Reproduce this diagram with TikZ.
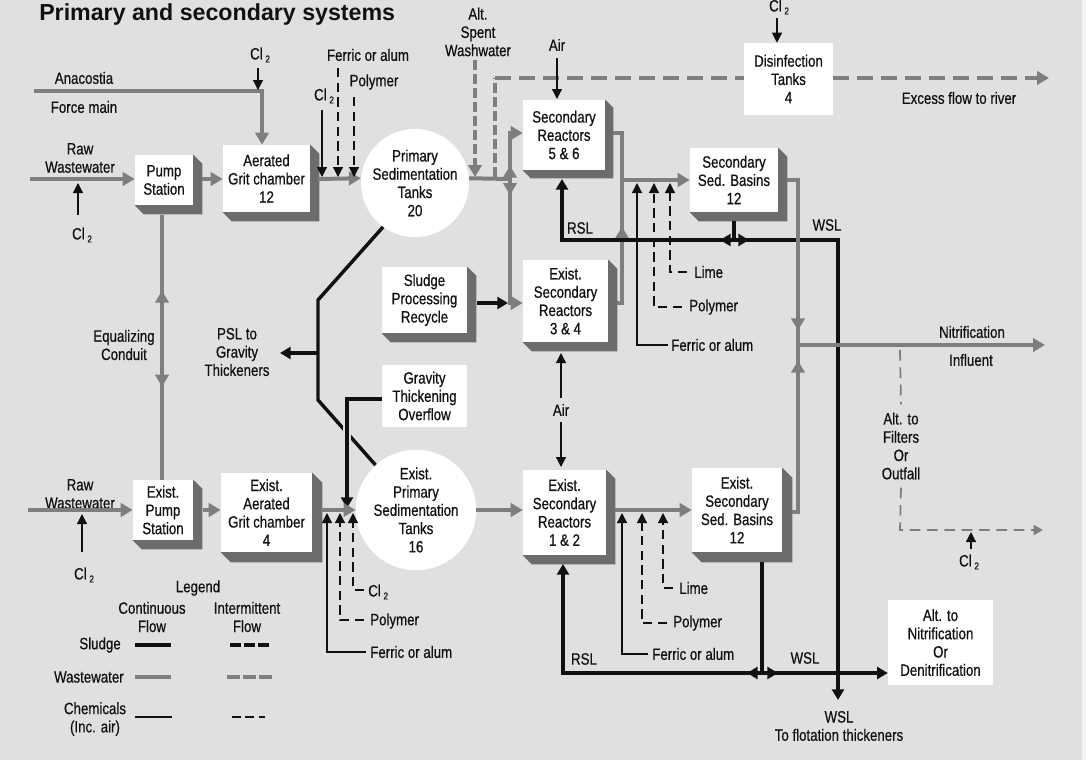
\documentclass[tikz,border=0pt]{standalone}
\usepackage{fontspec}
\setmainfont{Liberation Sans}[FakeStretch=0.81,FakeBold=0.6]
\newfontfamily\titlefont{Liberation Sans}
\usetikzlibrary{arrows.meta,calc,decorations.markings}
\pgfdeclarelayer{bgl}\pgfdeclarelayer{shade}\pgfsetlayers{bgl,shade,main}
\definecolor{bgc}{HTML}{E0E0E0}
\definecolor{wwc}{HTML}{7E7E7E}
\definecolor{shc}{HTML}{6C6C6C}
\definecolor{ink}{HTML}{111111}
\newcommand\cltwo{Cl\,\raisebox{-0.35ex}{\fontsize{7.5}{7.5}\selectfont 2}}
\newcommand\dropshade[2][9]{\begin{pgfonlayer}{shade}\fill[shc] (#2.north east) -- ++(#1,#1) -- ($(#2.south east)+(#1,#1)$) -- ($(#2.south west)+(#1,#1)$) -- (#2.south west) -- cycle;\end{pgfonlayer}}
\tikzset{
 gtip/.tip={Triangle[length=9pt,width=10pt]},
 gstip/.tip={Triangle[length=7pt,width=7.5pt]},
 stip/.tip={Triangle[length=8pt,width=9pt]},
 ctip/.tip={Triangle[length=7.5pt,width=7.5pt]},
 ww/.style={draw=wwc, line width=3pt},
 wwd/.style={ww, dash pattern=on 12pt off 6pt},
 wwdv/.style={ww, dash pattern=on 7.5pt off 3pt},
 sl/.style={draw=ink, line width=2.6pt},
 ch/.style={draw=ink, line width=0.9pt},
 chd/.style={ch, dash pattern=on 7pt off 4pt},
 midtip/.style 2 args={postaction={decorate}, decoration={markings, mark=at position #1 with {\arrow{#2}}}},
 bx/.style 2 args={fill=white, inner sep=0pt, align=center, text=ink, minimum width=#1*0.75pt, minimum height=#2*0.75pt},
 tank/.style={circle, fill=white, inner sep=0pt, align=center, text=ink, minimum size=96*0.75pt},
 lab/.style={inner sep=0pt, align=center, text=ink},
}
\begin{document}
\begin{tikzpicture}[x=0.75pt,y=-0.75pt,font=\fontsize{12.3}{13.7}\selectfont]
\useasboundingbox (0,0) rectangle (1086,760);
\begin{pgfonlayer}{bgl}
\fill[bgc] (0,0) rectangle (1086,760);
\fill[white!60!bgc] (1082,0) rectangle (1086,760);
\end{pgfonlayer}

% ---------- title
\node[lab, anchor=base west, font=\titlefont\bfseries\fontsize{17.4}{20}\selectfont] (title) at (39,21) {Primary and secondary systems};

% ---------- boxes
\node[bx={58}{50}] (pump) at (164,180) {Pump\\Station};
\node[bx={87}{67}] (grit) at (266.5,178.5) {Aerated\\Grit chamber\\12};
\node[tank] (psed) at (415,183) {Primary\\Sedimentation\\Tanks\\20};
\node[bx={82}{70}] (r56) at (564,135) {Secondary\\Reactors\\5 \& 6};
\node[bx={88}{64}] (ssb) at (734,180) {Secondary\\Sed. Basins\\12};
\node[bx={89}{72}] (dis) at (788.5,79) {Disinfection\\Tanks\\4};
\node[bx={85}{66}] (spr) at (424.5,300) {Sludge\\Processing\\Recycle};
\node[bx={85}{82}] (r34) at (565.5,301) {Exist.\\Secondary\\Reactors\\3 \& 4};
\node[bx={85}{62}] (gto) at (424.5,396) {Gravity\\Thickening\\Overflow};
\node[bx={60}{60}] (epump) at (163,510) {Exist.\\Pump\\Station};
\node[bx={91}{79}] (egrit) at (266.5,512.5) {Exist.\\Aerated\\Grit chamber\\4};
\node[tank] (epsed) at (416,510) {Exist.\\Primary\\Sedimentation\\Tanks\\16};
\node[bx={83}{85}] (r12) at (564.5,512.5) {Exist.\\Secondary\\Reactors\\1 \& 2};
\node[bx={90}{84}] (essb) at (737,510) {Exist.\\Secondary\\Sed. Basins\\12};
\node[bx={105}{85}] (altn) at (940.5,642.5) {Alt. to\\Nitrification\\Or\\Denitrification};

\dropshade{pump}\dropshade{grit}\dropshade[8]{r56}\dropshade{ssb}
\dropshade{spr}\dropshade{r34}\dropshade{epump}\dropshade[10]{egrit}
\dropshade{r12}\dropshade[10]{essb}

% ---------- labels
\node[lab] (anac) at (84,78) {Anacostia};
\node[lab] (fmain) at (84,107) {Force main};
\node[lab] (rw1) at (80,158) {Raw\\Wastewater};
\node[lab] (cl1) at (82,235) {\cltwo};
\node[lab] (cl2) at (260,55) {\cltwo};
\node[lab] (cl3) at (324,96) {\cltwo};
\node[lab] (fer1) at (368,55) {Ferric or alum};
\node[lab] (pol1) at (374,82) {Polymer};
\node[lab] (asw) at (478,32) {Alt.\\Spent\\Washwater};
\node[lab] (air1) at (557,45) {Air};
\node[lab] (cl4) at (779,7) {\cltwo};
\node[lab] (efr) at (959,98) {Excess flow to river};
\node[lab] (rsl1) at (580,228) {RSL};
\node[lab] (wsl1) at (827,225) {WSL};
\node[lab, anchor=west] (lime1) at (694,272) {Lime};
\node[lab, anchor=west] (pol2) at (689,307) {Polymer};
\node[lab, anchor=west] (fer2) at (671,345) {Ferric or alum};
\node[lab] (eqc) at (124,345) {Equalizing\\Conduit};
\node[lab] (psl) at (237,352) {PSL to\\Gravity\\Thickeners};
\node[lab] (air2) at (561,410) {Air};
\node[lab] (nit) at (972,332) {Nitrification};
\node[lab] (inf) at (971,360) {Influent};
\node[lab] (altf) at (901,446) {Alt. to\\Filters\\Or\\Outfall};
\node[lab] (cl5) at (969,562) {\cltwo};
\node[lab] (rw2) at (80,494) {Raw\\Wastewater};
\node[lab] (cl6) at (84,575) {\cltwo};
\node[lab, anchor=west] (cl7) at (368,592) {\cltwo};
\node[lab, anchor=west] (pol3) at (370,621) {Polymer};
\node[lab, anchor=west] (fer3) at (370,652) {Ferric or alum};
\node[lab, anchor=west] (lime2) at (679,588) {Lime};
\node[lab, anchor=west] (pol4) at (673,623) {Polymer};
\node[lab, anchor=west] (fer4) at (652,654) {Ferric or alum};
\node[lab] (rsl2) at (584,659) {RSL};
\node[lab] (wsl2) at (805,658) {WSL};
\node[lab] (wsl3) at (839,726) {WSL\\To flotation thickeners};
% legend
\node[lab] (leg) at (198,588) {Legend};
\node[lab] (cont) at (152,617) {Continuous\\Flow};
\node[lab] (inter) at (247,617) {Intermittent\\Flow};
\node[lab, anchor=east] (lsl) at (121,645) {Sludge};
\node[lab, anchor=east] (lww) at (124,677) {Wastewater};
\node[lab] (lch) at (95,719) {Chemicals\\(Inc. air)};

% ---------- top row connectors
\draw[ww,-gtip] (34,91) -- (262,91) -- (262,0 |- grit.north);
\draw[ch,-ctip] (258,68) -- (258,90);
\draw[ww,-gtip] (30,179) -- (pump.west |- 0,179);
\draw[ch,-ctip] (78,215) -- (78,183);
\draw[ww,-gtip] (202,179) -- (grit.west |- 0,179);
\draw[ww,-gtip] (318,179) -- (psed.175);
\draw[ch,-ctip] (322,110) -- (322,177);
\draw[chd,-ctip] (338,68) -- (338,177);
\draw[chd,-ctip] (354,97) -- (354,177);
\draw[ww] (psed.5) -- (510,179);
\coordinate (J) at (510,179);
\draw[ww,-gtip,midtip={10pt}{gtip}] (J) -- (510,133) -- (r56.west |- 0,133);
\draw[ww,-gtip,midtip={12pt}{gtip}] (J) -- (510,303) -- (r34.west |- 0,303);
\draw[wwdv,-gtip] (475,60) -- (475,177);
\draw[wwdv] (495,177) -- (495,78);
\draw[wwd] (495,78) -- (dis.west |- 0,78);
\draw[wwd,-gtip] (dis.east |- 0,78) -- (1049,78);
\draw[ch,-ctip] (557,58) -- (557,99);
\draw[ch,-ctip] (777,18) -- (dis.north -| 777,0);
\draw[ww,-gtip] (613,133) -- (622,133) -- (622,180) -- (ssb.west |- 0,180);
\draw[ww,midtip={61pt}{gtip}] (617,303) -- (622,303) -- (622,180);
\draw[ch,-ctip] (668,345) -- (637,345) -- (637,183);
\draw[chd,-ctip] (682,307) -- (654,307) -- (654,183);
\draw[chd,-ctip] (687,272) -- (670,272) -- (670,183);
\draw[sl] (734,221) -- (734,240);
\draw[sl,-stip] (734,240) -- (562,240) -- (562,179);
\draw[sl,-stip] (734,240) -- (838,240) -- (838,700);
\draw[sl,-stip] (734,240) -- (720,240);
\draw[sl,-stip] (734,240) -- (749,240);
\draw[ww,midtip={121pt}{gtip}] (787,180) -- (798,180) -- (798,345);
\draw[ww,midtip={118pt}{gtip}] (792,512) -- (798,512) -- (798,345);
\draw[ww,-gtip] (798,345) -- (1045,345);
\draw[wwc, line width=1.3pt, dash pattern=on 8pt off 5pt] (900,350) -- ($(altf.north)+(0,-8)$);
\draw[wwc, line width=1.3pt, dash pattern=on 8pt off 5pt, -gstip] ($(altf.south)+(0,8)$) -- (900,530) -- (1043,530);
\draw[ch,-ctip] (971,549) -- (971,532);

% ---------- middle
\draw[sl,-stip] (477,303) -- (508,303);
\draw[sl] (psed.234) -- (318,300) -- (318,400) -- (epsed.132);
\draw[sl,-stip] (318,353) -- (280,353);
\draw[bgc, line width=6pt] (347,423) -- (347,443);
\draw[sl,-stip] (gto.west |- 0,399) -- (347,399) -- (347,508);
\draw[ww,midtip={37pt}{gtip}] (162,340) -- (162,215);
\draw[ww,midtip={35pt}{gtip}] (162,340) -- (epump.north -| 162,0);
\draw[ch,-ctip] ($(air2.north)+(0,-6)$) -- (561,353);
\draw[ch,-ctip] ($(air2.south)+(0,6)$) -- (561,467);

% ---------- bottom row
\draw[ww,-gtip] (28,510) -- (epump.west);
\draw[ch,-ctip] (82,552) -- (82,514);
\draw[ww,-gtip] (203,510) -- (egrit.west |- 0,510);
\draw[ww,-gtip] (321,510) -- (epsed.west);
\draw[ch,-ctip] (366,652) -- (327,652) -- (327,513);
\draw[chd,-ctip] (364,620) -- (340,620) -- (340,513);
\draw[chd,-ctip] (364,590) -- (353,590) -- (353,513);
\draw[ww,-gtip] (epsed.east) -- (r12.west |- 0,510);
\draw[ww,-gtip] (615,510) -- (essb.west);
\draw[ch,-ctip] (648,654) -- (622,654) -- (622,513);
\draw[chd,-ctip] (667,623) -- (642,623) -- (642,513);
\draw[chd,-ctip] (673,588) -- (663,588) -- (663,513);
\draw[sl] (762,562) -- (762,673);
\draw[sl,-stip] (762,673) -- (563,673) -- (563,564);
\draw[sl,-stip] (762,673) -- (altn.west |- 0,673);
\draw[sl,-stip] (762,673) -- (747,673);
\draw[sl,-stip] (762,673) -- (778,673);

% ---------- legend lines
\draw[sl] (135,645) -- (171,645);
\draw[sl, dash pattern=on 8.5pt off 2pt] (230,645) -- (270,645);
\draw[ww] (135,677) -- (171,677);
\draw[ww, dash pattern=on 10pt off 2pt] (227,677) -- (272,677);
\draw[ch] (135,717) -- (172,717);
\draw[ch, dash pattern=on 6.5pt off 3.5pt] (232,717) -- (265,717);
\end{tikzpicture}
\end{document}
